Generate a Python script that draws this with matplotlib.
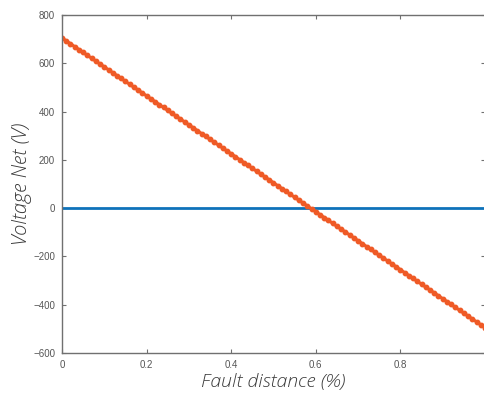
import matplotlib
matplotlib.use("Agg")
import matplotlib.pyplot as plt

# fault position along the line (fraction of length)
distance = [0.00, 0.01, 0.02, 0.03, 0.04, 0.05, 0.06, 0.07, 0.08, 0.09,
            0.10, 0.11, 0.12, 0.13, 0.14, 0.15, 0.16, 0.17, 0.18, 0.19,
            0.20, 0.21, 0.22, 0.23, 0.24, 0.25, 0.26, 0.27, 0.28, 0.29,
            0.30, 0.31, 0.32, 0.33, 0.34, 0.35, 0.36, 0.37, 0.38, 0.39,
            0.40, 0.41, 0.42, 0.43, 0.44, 0.45, 0.46, 0.47, 0.48, 0.49,
            0.50, 0.51, 0.52, 0.53, 0.54, 0.55, 0.56, 0.57, 0.58, 0.59,
            0.60, 0.61, 0.62, 0.63, 0.64, 0.65, 0.66, 0.67, 0.68, 0.69,
            0.70, 0.71, 0.72, 0.73, 0.74, 0.75, 0.76, 0.77, 0.78, 0.79,
            0.80, 0.81, 0.82, 0.83, 0.84, 0.85, 0.86, 0.87, 0.88, 0.89,
            0.90, 0.91, 0.92, 0.93, 0.94, 0.95, 0.96, 0.97, 0.98, 0.99,
            1.00]

# net voltage
voltage = [705, 693, 681, 669, 657, 645, 633, 621, 609, 597,
           585, 573, 561, 549, 537, 525, 513, 501, 489, 477,
           465, 453, 441, 429, 417, 405, 393, 381, 369, 357,
           345, 333, 321, 309, 297, 285, 273, 261, 249, 237,
           225, 213, 201, 189, 177, 165, 153, 141, 129, 117,
           105, 93, 81, 69, 57, 45, 33, 21, 9, -3,
           -15, -27, -39, -51, -63, -75, -87, -99, -111, -123,
           -135, -147, -159, -171, -183, -195, -207, -219, -231, -243,
           -255, -267, -279, -291, -303, -315, -327, -339, -351, -363,
           -375, -387, -399, -411, -423, -435, -447, -459, -471, -483,
           -495]

# zero reference line
zero_x = [0, 1]
zero_y = [0, 0]

xticks = [0, 0.2, 0.4, 0.6, 0.8]
xticklabels = ["0", "0.2", "0.4", "0.6", "0.8"]
yticks = [-600, -400, -200, 0, 200, 400, 600, 800]

fig = plt.figure(figsize=(4.84, 3.94), dpi=100)
ax = fig.add_axes([62 / 484, 41 / 394, 423 / 484, 338 / 394])

ax.plot(zero_x, zero_y, color="#0E72BA", linewidth=2.0)
ax.plot(distance, voltage, color="#EF5A26", linewidth=2.2,
        marker="o", markersize=3.2)

ax.set_xlim(0, 1)
ax.set_ylim(-600, 800)
ax.set_xticks(xticks)
ax.set_xticklabels(xticklabels)
ax.set_yticks(yticks)

for s in ax.spines.values():
    s.set_color("#707070")
    s.set_linewidth(1.0)

ax.tick_params(direction="in", top=True, right=True, length=3,
               width=0.8, color="#707070", labelsize=7,
               labelcolor="#555555", pad=5)
for lab in ax.get_xticklabels() + ax.get_yticklabels():
    lab.set_family("Liberation Sans")

label_font = dict(family="Open Sans", style="italic", weight="light",
                  color="#3a3a3a")
ax.set_xlabel("Fault distance (%)", labelpad=2, size=14, **label_font)
ax.set_ylabel("Voltage Net (V)", labelpad=0.5, size=14.5, **label_font)

fig.savefig("out.png", dpi=100)
